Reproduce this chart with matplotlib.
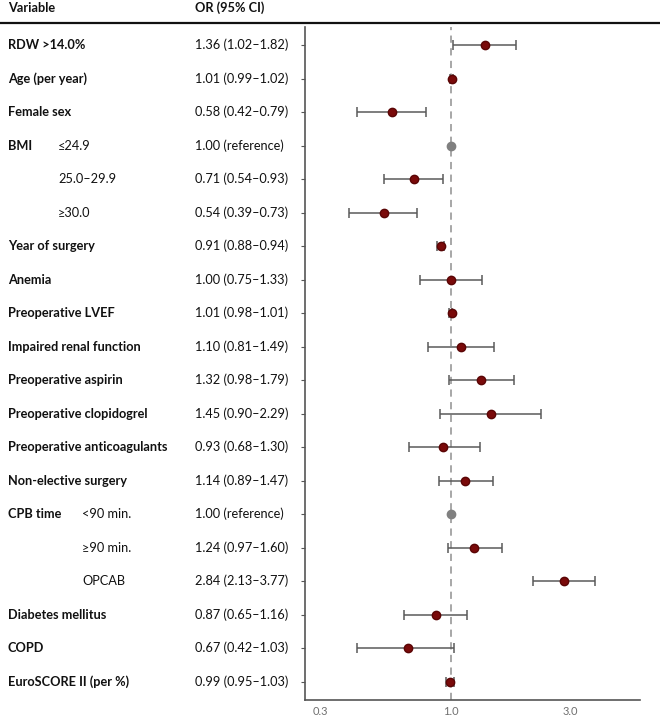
import matplotlib
matplotlib.use("Agg")
import matplotlib.pyplot as plt
import matplotlib.transforms as mtransforms
from matplotlib.lines import Line2D

plt.rcParams['font.family'] = ['Lato', 'DejaVu Sans']

labels = ["RDW >14.0%", "Age (per year)", "Female sex", "BMI", "", "",
          "Year of surgery", "Anemia", "Preoperative LVEF", "Impaired renal function",
          "Preoperative aspirin", "Preoperative clopidogrel", "Preoperative anticoagulants",
          "Non-elective surgery", "CPB time", "", "", "Diabetes mellitus", "COPD",
          "EuroSCORE II (per %)"]
sublabels = ["", "", "", "≤24.9", "25.0–29.9", "≥30.0", "", "", "", "", "", "", "", "",
             "<90 min.", "≥90 min.", "OPCAB", "", "", ""]
or_vals = [1.36, 1.01, 0.58, 1.00, 0.71, 0.54, 0.91, 1.00, 1.01, 1.10, 1.32, 1.45, 0.93,
           1.14, 1.00, 1.24, 2.84, 0.87, 0.67, 0.99]
ci_lo = [1.02, 0.99, 0.42, None, 0.54, 0.39, 0.88, 0.75, 0.98, 0.81, 0.98, 0.90, 0.68,
         0.89, None, 0.97, 2.13, 0.65, 0.42, 0.95]
ci_hi = [1.82, 1.02, 0.79, None, 0.93, 0.73, 0.94, 1.33, 1.01, 1.49, 1.79, 2.29, 1.30,
         1.47, None, 1.60, 3.77, 1.16, 1.03, 1.03]
or_text = ["1.36 (1.02–1.82)", "1.01 (0.99–1.02)", "0.58 (0.42–0.79)", "1.00 (reference)",
           "0.71 (0.54–0.93)", "0.54 (0.39–0.73)", "0.91 (0.88–0.94)", "1.00 (0.75–1.33)",
           "1.01 (0.98–1.01)", "1.10 (0.81–1.49)", "1.32 (0.98–1.79)", "1.45 (0.90–2.29)",
           "0.93 (0.68–1.30)", "1.14 (0.89–1.47)", "1.00 (reference)", "1.24 (0.97–1.60)",
           "2.84 (2.13–3.77)", "0.87 (0.65–1.16)", "0.67 (0.42–1.03)", "0.99 (0.95–1.03)"]
xticks = [0.3, 1.0, 3.0]
xtick_labels = ["0.3", "1.0", "3.0"]

W, H = 660, 718
fig = plt.figure(figsize=(W / 100, H / 100), dpi=100)
ax = fig.add_axes([305 / W, 1 - 700 / H, (640 - 305) / W, (700 - 27) / H])

n = len(labels)
ys = list(range(n))
row_px = 33.5
top_off = 18
ax.set_ylim(n - 1 + (700 - 45 - (n - 1) * row_px) / row_px, -top_off / row_px)
ax.set_xscale('log')
ax.set_xlim(0.26, 5.7)

ax.axvline(1.0, color='#a0a0a0', linestyle=(0, (4, 3)), linewidth=1.3, zorder=1)

for i in ys:
    if ci_lo[i] is None:
        ax.plot(or_vals[i], i, 'o', color='#808080', markersize=6, zorder=3)
    else:
        ax.errorbar(or_vals[i], i, xerr=[[or_vals[i] - ci_lo[i]], [ci_hi[i] - or_vals[i]]],
                    fmt='o', color='#7a0a0a', mec='#5a0505', ecolor='#5a5a5a', elinewidth=1.1,
                    capsize=3.5, capthick=1.1, markersize=6, zorder=3)

ax.set_xticks(xticks)
ax.set_xticklabels(xtick_labels)
ax.xaxis.set_minor_locator(matplotlib.ticker.NullLocator())
ax.tick_params(axis='x', length=0, labelsize=8, labelcolor='#707070', pad=4)
ax.set_yticks(ys)
ax.set_yticklabels([])
ax.tick_params(axis='y', length=3, color='#555555', direction='out')
for s in ['top', 'right']:
    ax.spines[s].set_visible(False)
for s in ['left', 'bottom']:
    ax.spines[s].set_color('#555555')
    ax.spines[s].set_linewidth(1.2)

fs = 9.2
tr = mtransforms.blended_transform_factory(fig.transFigure, ax.transData)
for i in ys:
    if labels[i]:
        ax.text(8 / W, i, labels[i], transform=tr, fontsize=fs, fontweight='bold',
                va='center', ha='left', color='#111111')
    if sublabels[i]:
        sx = 82 / W if i >= 14 else 58 / W
        ax.text(sx, i, sublabels[i], transform=tr, fontsize=fs, va='center',
                ha='left', color='#111111')
    ax.text(195 / W, i, or_text[i], transform=tr, fontsize=fs, va='center',
            ha='left', color='#111111')

fig.text(8 / W, 1 - 8 / H, "Variable", fontsize=fs, fontweight='bold', va='center',
         ha='left', color='#111111')
fig.text(195 / W, 1 - 8 / H, "OR (95% CI)", fontsize=fs, fontweight='bold', va='center',
         ha='left', color='#111111')
fig.add_artist(Line2D([0, 1], [1 - 23 / H, 1 - 23 / H], transform=fig.transFigure,
                      color='#111111', linewidth=1.6))

fig.savefig("out.png", dpi=100)
